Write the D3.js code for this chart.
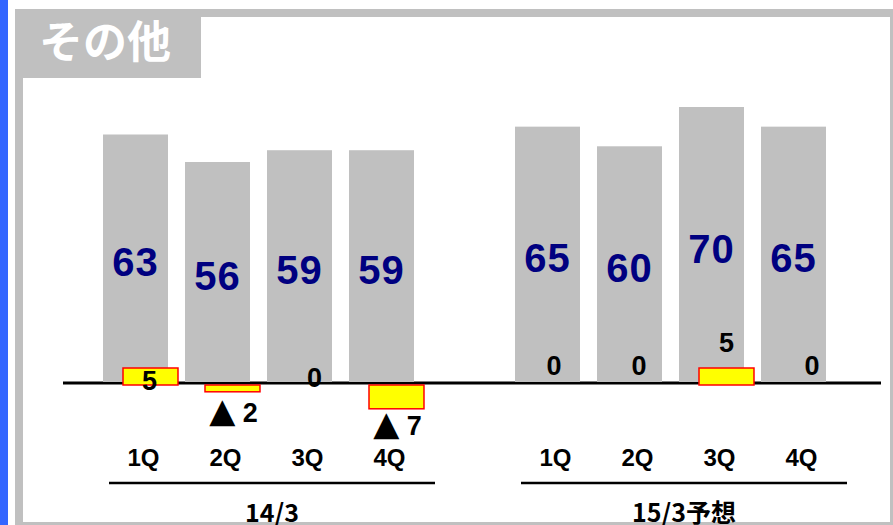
<!DOCTYPE html>
<html><head><meta charset="utf-8">
<script src="https://cdn.jsdelivr.net/npm/d3@7/dist/d3.min.js"></script>
<style>html,body{margin:0;padding:0;background:#fff;overflow:hidden}</style>
</head><body>
<svg id="c" width="893" height="525"></svg>
<script>
// ---- data ----
const title = "その他";
const quarters = ["1Q", "2Q", "3Q", "4Q"];
const periods = ["14/3", "15/3予想"];
const sales14 = [63, 56, 59, 59];
const sales15 = [65, 60, 70, 65];
const change14 = [5, -2, 0, -7];
const change15 = [0, 0, 5, 0];

// ---- drawing ----
const svg = d3.select("#c");
const numFont = "'Liberation Sans', Arial, sans-serif";
const jpFont = "'Noto Sans CJK JP', 'Liberation Sans', sans-serif";

// frame
svg.append("rect").attr("x", 0).attr("y", 0).attr("width", 893).attr("height", 525).attr("fill", "#fff");
svg.append("rect").attr("x", 0).attr("y", 0).attr("width", 8).attr("height", 525).attr("fill", "#3366ff");

const yBar = d3.scaleLinear().domain([0, 70]).range([382, 107]);
const yChg = d3.scaleLinear().domain([-10, 0, 10]).range([419, 385, 351]);

const groups = [
  {period: periods[0], sales: sales14, change: change14, range: [94.5, 422.5],
   nudge: [[-1, 38], [1, 3], [0, 12], [1, -1]]},
  {period: periods[1], sales: sales15, change: change15, range: [506.5, 834.5],
   nudge: [[-8.5, 0], [-5.5, 0], [0, 0], [3.5, 0]]}
];

// baseline
svg.append("line").attr("x1", 63).attr("x2", 881).attr("y1", 383).attr("y2", 383)
  .attr("stroke", "#000").attr("stroke-width", 3);

groups.forEach(g => {
  const x = d3.scaleBand().domain(quarters).range(g.range)
    .paddingInner(0.2073).paddingOuter(0.1037);
  const bw = x.bandwidth();
  const rows = quarters.map((q, i) => ({q, v: g.sales[i], c: g.change[i], n: g.nudge[i]}));
  const gg = svg.append("g");

  gg.selectAll(".bar").data(rows).join("rect")
    .attr("x", d => x(d.q)).attr("width", bw)
    .attr("y", d => yBar(d.v)).attr("height", d => yBar(0) - yBar(d.v))
    .attr("fill", "#c0c0c0");

  gg.selectAll(".val").data(rows).join("text")
    .attr("x", d => x(d.q) + bw / 2)
    .attr("y", d => (yBar(d.v) + yBar(0)) / 2 + 18)
    .attr("text-anchor", "middle")
    .attr("font-family", numFont).attr("font-weight", "bold").attr("font-size", 40)
    .attr("letter-spacing", 1)
    .attr("fill", "#000080")
    .text(d => d.v);

  // change bars
  const cx = d => x(d.q) + bw * 0.3077;
  const cw = bw * 0.846;
  gg.selectAll(".chg").data(rows.filter(d => d.c !== 0)).join("rect")
    .attr("x", cx).attr("width", cw)
    .attr("y", d => d.c > 0 ? yChg(d.c) : yChg(0))
    .attr("height", d => Math.abs(yChg(d.c) - yChg(0)))
    .attr("fill", "#ffff00").attr("stroke", "#ff0000").attr("stroke-width", 1.5);

  // change labels
  const lab = gg.selectAll(".clab").data(rows).join("text")
    .attr("x", d => cx(d) + cw / 2 + d.n[0])
    .attr("y", d => {
      let base;
      if (d.c > 0) base = yChg(d.c) - 16;
      else if (d.c < 0) base = yChg(d.c) + 27;
      else base = 375;
      return base + d.n[1];
    })
    .attr("text-anchor", "middle")
    .attr("font-family", numFont).attr("font-weight", "bold").attr("font-size", 27)
    .attr("fill", "#000");
  lab.each(function(d) {
    const t = d3.select(this);
    if (d.c < 0) {
      t.append("tspan").attr("font-family", "'DejaVu Sans', sans-serif").attr("font-size", 34).text("▲");
      t.append("tspan").text("\u00a0" + Math.abs(d.c));
    } else {
      t.text(d.c);
    }
  });

  // category labels
  gg.selectAll(".cat").data(rows).join("text")
    .attr("x", d => x(d.q) + bw / 2 + 8).attr("y", 466)
    .attr("text-anchor", "middle")
    .attr("font-family", numFont).attr("font-weight", "bold").attr("font-size", 24)
    .attr("fill", "#000").text(d => d.q);

  // group underline
  gg.append("line").attr("x1", g.range[0] + 14.5).attr("x2", g.range[1] + 12.5)
    .attr("y1", 483).attr("y2", 483).attr("stroke", "#000").attr("stroke-width", 2.5);

  g.labelX = (g.range[0] + 14.5 + g.range[1] + 12.5) / 2;
});

// frame borders (drawn over chart)
svg.append("rect").attr("x", 15).attr("y", 9).attr("width", 878).attr("height", 8).attr("fill", "#c0c0c0");
svg.append("rect").attr("x", 15).attr("y", 9).attr("width", 8).attr("height", 516).attr("fill", "#c0c0c0");
svg.append("rect").attr("x", 890).attr("y", 9).attr("width", 3).attr("height", 516).attr("fill", "#c0c0c0");
svg.append("rect").attr("x", 15).attr("y", 522).attr("width", 878).attr("height", 3).attr("fill", "#c0c0c0");
svg.append("rect").attr("x", 23).attr("y", 17).attr("width", 178).attr("height", 61).attr("fill", "#c0c0c0");
svg.append("text").attr("x", 39).attr("y", 58)
  .attr("font-family", jpFont).attr("font-weight", "bold").attr("font-size", 44)
  .attr("fill", "#fff").text(title);

// period labels (over the bottom border)
groups.forEach(g => {
  svg.append("text").attr("x", g.labelX).attr("y", 522)
    .attr("text-anchor", "middle")
    .attr("font-family", jpFont).attr("font-weight", "bold").attr("font-size", 25)
    .attr("fill", "#000").text(g.period);
});
</script>
</body></html>
